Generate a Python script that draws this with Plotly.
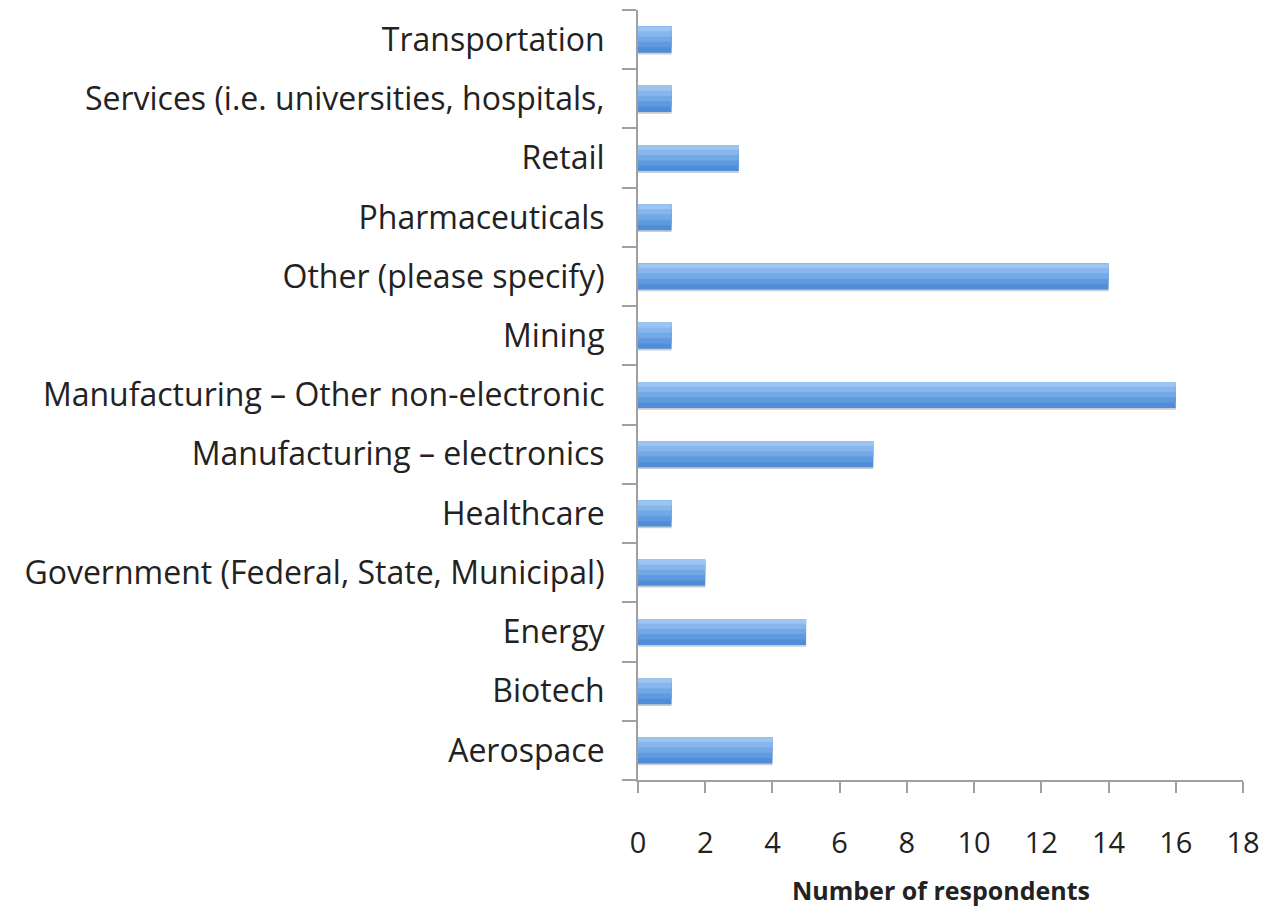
import plotly.graph_objects as go

categories = [
    "Aerospace",
    "Biotech",
    "Energy",
    "Government (Federal, State, Municipal)",
    "Healthcare",
    "Manufacturing – electronics",
    "Manufacturing – Other non-electronic",
    "Mining",
    "Other (please specify)",
    "Pharmaceuticals",
    "Retail",
    "Services (i.e. universities, hospitals,",
    "Transportation",
]
respondents = [4, 1, 5, 2, 1, 7, 16, 1, 14, 1, 3, 1, 1]
x_ticks = [0, 2, 4, 6, 8, 10, 12, 14, 16, 18]
x_title = "Number of respondents"

font_family = "Open Sans, Liberation Sans, sans-serif"

# gradient bands (bottom -> top), as (offset, width, color) in category units
bands = [
    (-0.25, 0.04, "#c9cdd3"),   # soft shadow under the bar
    (-0.22, 0.44, "#4f8dd6"),
    (-0.13, 0.35, "#5f9ade"),
    (-0.04, 0.26, "#72a8e6"),
    (0.05, 0.17, "#86b6ec"),
    (0.14, 0.08, "#9cc5f2"),
]

fig = go.Figure()
for off, w, col in bands:
    fig.add_trace(
        go.Bar(
            x=respondents,
            y=categories,
            orientation="h",
            offset=off,
            width=w,
            marker=dict(color=col, line=dict(width=0)),
            hoverinfo="x+y",
        )
    )

fig.update_layout(
    width=1253,
    height=903,
    margin=dict(l=630, r=18, t=2, b=131),
    barmode="overlay",
    paper_bgcolor="white",
    plot_bgcolor="white",
    showlegend=False,
    font=dict(family=font_family, size=32, color="#222222"),
)

fig.add_annotation(
    text="<b>" + x_title + "</b>",
    xref="paper", yref="paper",
    x=0.5, y=-0.143,
    xanchor="center", yanchor="middle",
    showarrow=False,
    font=dict(size=25, color="#222222"),
)

fig.update_xaxes(
    range=[0, 18],
    tickvals=x_ticks,
    ticks="outside",
    ticklen=11,
    tickwidth=2,
    tickcolor="#a0a0a0",
    showline=True,
    linecolor="#a0a0a0",
    linewidth=2,
    showgrid=False,
    zeroline=False,
    automargin=False,
    ticklabelstandoff=25,
    tickfont=dict(size=29),
)

fig.update_yaxes(
    type="category",
    categoryorder="array",
    categoryarray=categories,
    ticks="outside",
    tickson="boundaries",
    ticklen=14,
    tickwidth=2,
    tickcolor="#a0a0a0",
    showline=True,
    linecolor="#a0a0a0",
    linewidth=2,
    showgrid=False,
    zeroline=False,
    automargin=False,
    ticklabelstandoff=25,
    tickfont=dict(size=32),
)

fig.write_html("out.html")
